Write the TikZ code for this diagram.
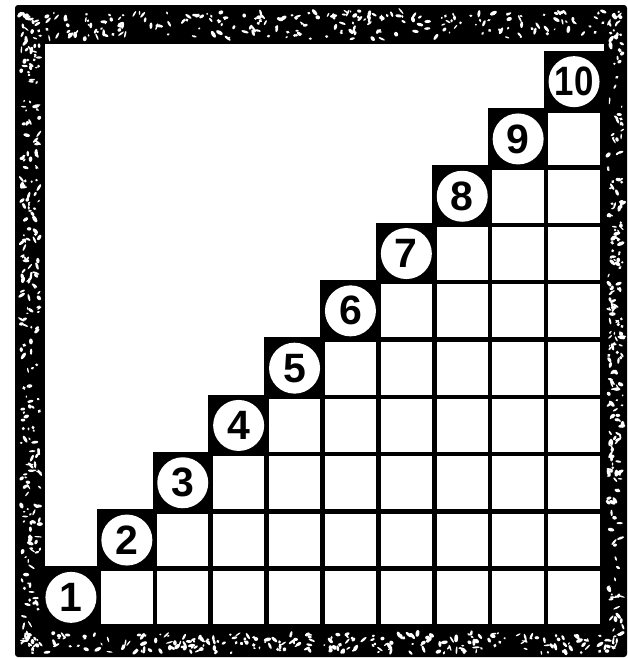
\documentclass[tikz,border=0pt]{standalone}
\usepackage{fontspec}
\setmainfont{Liberation Sans}
\begin{document}
\begin{tikzpicture}[x=1pt,y=-1pt,
  cell/.style={draw=black,line width=4.5pt,fill=white},
  topcell/.style={draw=black,line width=4.5pt,fill=black},
  speck/.style={white},
  numcircle/.style={circle,fill=white,minimum size=51pt,inner sep=0pt,
    font=\fontsize{41}{41}\selectfont\bfseries}]
\useasboundingbox (0,0) rectangle (628,659);
\fill[white] (0,0) rectangle (628,659);
% frame
\fill[black,rounded corners=3pt] (15,5) rectangle (627,657);
\fill[white] (45,44) rectangle (604,628);
\pgfmathsetseed{7}
% top band
\foreach \i in {1,...,230}{
  \pgfmathsetmacro\px{20+600*rnd}
  \pgfmathsetmacro\py{11+28*rnd}
  \pgfmathsetmacro\ra{1.0+3.0*rnd}
  \pgfmathsetmacro\rb{0.7+1.3*rnd}
  \pgfmathsetmacro\an{180*rnd}
  \fill[speck,rotate around={\an:(\px,\py)}] (\px,\py) ellipse [x radius=\ra, y radius=\rb];
}
% bottom band
\foreach \i in {1,...,250}{
  \pgfmathsetmacro\px{20+600*rnd}
  \pgfmathsetmacro\py{633+20*rnd}
  \pgfmathsetmacro\ra{1.0+3.0*rnd}
  \pgfmathsetmacro\rb{0.7+1.3*rnd}
  \pgfmathsetmacro\an{180*rnd}
  \fill[speck,rotate around={\an:(\px,\py)}] (\px,\py) ellipse [x radius=\ra, y radius=\rb];
}
% left band
\foreach \i in {1,...,230}{
  \pgfmathsetmacro\px{21+19*rnd}
  \pgfmathsetmacro\py{12+636*rnd}
  \pgfmathsetmacro\ra{1.0+3.0*rnd}
  \pgfmathsetmacro\rb{0.7+1.3*rnd}
  \pgfmathsetmacro\an{180*rnd}
  \fill[speck,rotate around={\an:(\px,\py)}] (\px,\py) ellipse [x radius=\ra, y radius=\rb];
}
% right band
\foreach \i in {1,...,230}{
  \pgfmathsetmacro\px{608+15*rnd}
  \pgfmathsetmacro\py{12+636*rnd}
  \pgfmathsetmacro\ra{1.0+3.0*rnd}
  \pgfmathsetmacro\rb{0.7+1.3*rnd}
  \pgfmathsetmacro\an{180*rnd}
  \fill[speck,rotate around={\an:(\px,\py)}] (\px,\py) ellipse [x radius=\ra, y radius=\rb];
}
% staircase grid
\def\xo{43}\def\cw{55.9}\def\yb{626}\def\ch{57.3}
\foreach \c in {1,...,10}{
  \foreach \r in {1,...,\c}{
    \pgfmathsetmacro\xa{\xo+(\c-1)*\cw}
    \pgfmathsetmacro\xb{\xo+\c*\cw}
    \pgfmathsetmacro\ya{\yb-\r*\ch}
    \pgfmathsetmacro\yc{\yb-(\r-1)*\ch}
    \ifnum\r=\c
      \draw[topcell] (\xa,\ya) rectangle (\xb,\yc);
    \else
      \draw[cell] (\xa,\ya) rectangle (\xb,\yc);
    \fi
  }
}
\foreach \c in {1,...,10}{
  \pgfmathsetmacro\xm{\xo+(\c-0.5)*\cw}
  \pgfmathsetmacro\ym{\yb-(\c-0.5)*\ch}
  \node[numcircle] (n\c) at (\xm,\ym) {\ifnum\c=10 \scalebox{0.85}[1]{10}\else\c\fi};
}
\end{tikzpicture}
\end{document}
